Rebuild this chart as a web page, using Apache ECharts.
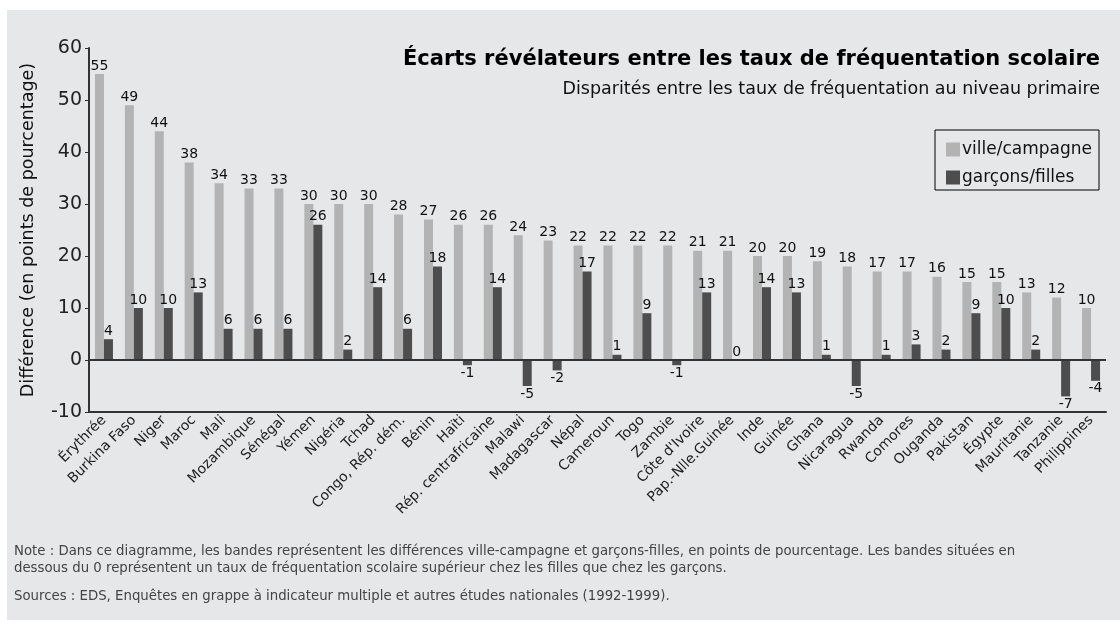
<!DOCTYPE html>
<html><head><meta charset="utf-8">
<script src="https://cdn.jsdelivr.net/npm/echarts@6/dist/echarts.min.js"></script>
<style>html,body{margin:0;padding:0;background:#fff;}#c{width:1120px;height:625px;}</style>
</head><body><div id="c"></div>
<script>
const categories = ["Érythrée","Burkina Faso","Niger","Maroc","Mali","Mozambique","Sénégal","Yémen","Nigéria","Tchad","Congo, Rép. dém.","Bénin","Haïti","Rép. centrafricaine","Malawi","Madagascar","Népal","Cameroun","Togo","Zambie","Côte d'Ivoire","Pap.-Nlle.Guinée","Inde","Guinée","Ghana","Nicaragua","Rwanda","Comores","Ouganda","Pakistan","Égypte","Mauritanie","Tanzanie","Philippines"];
const villeCampagne = [55,49,44,38,34,33,33,30,30,30,28,27,26,26,24,23,22,22,22,22,21,21,20,20,19,18,17,17,16,15,15,13,12,10];
const garconsFilles = [4,10,10,13,6,6,6,26,2,14,6,18,-1,14,-5,-2,17,1,9,-1,13,0,14,13,1,-5,1,3,2,9,10,2,-7,-4];
const yTicks = [-10,0,10,20,30,40,50,60];

const FONT = '"DejaVu Sans", sans-serif';
const chart = echarts.init(document.getElementById('c'));
const lbl = (pos) => ({show:true, position:pos, distance:1, fontSize:14, color:'#111', fontFamily:FONT});
chart.setOption({
  backgroundColor:'#fff',
  animation:false,
  textStyle:{fontFamily:FONT},
  graphic:[
    {type:'rect', z:-100, silent:true, shape:{x:7,y:10,width:1113,height:610}, style:{fill:'#e6e7e9'}},
    {type:'text', right:20, top:49, style:{text:'Écarts révélateurs entre les taux de fréquentation scolaire', font:'bold 21px '+FONT, fill:'#000'}},
    {type:'text', right:20, top:80, style:{text:'Disparités entre les taux de fréquentation au niveau primaire', font:'17.5px '+FONT, fill:'#111'}},
    {type:'rect', silent:true, shape:{x:935,y:130,width:164,height:60}, style:{fill:'#e6e7e9', stroke:'#000', lineWidth:1}},
    {type:'text', left:14, top:543, style:{text:"Note : Dans ce diagramme, les bandes représentent les différences ville-campagne et garçons-filles, en points de pourcentage. Les bandes situées en\ndessous du 0 représentent un taux de fréquentation scolaire supérieur chez les filles que chez les garçons.", font:'13.3px '+FONT, fill:'#444', lineHeight:17}},
    {type:'text', left:14, top:590, style:{text:"Sources : EDS, Enquêtes en grappe à indicateur multiple et autres études nationales (1992-1999).", font:'13.3px '+FONT, fill:'#444'}}
  ],
  legend:{
    orient:'vertical', left:941, top:136, itemWidth:14, itemHeight:14, itemGap:11,
    icon:'rect', textStyle:{fontSize:17, color:'#111', padding:[0,0,0,-3]},
    data:['ville/campagne','garçons/filles']
  },
  grid:{left:89, right:14, top:48, bottom:213, containLabel:false},
  xAxis:{
    type:'category', data:categories,
    axisLine:{onZero:false, lineStyle:{color:'#333', width:2}},
    axisTick:{show:false},
    axisLabel:{rotate:45, interval:0, fontSize:14, color:'#222', margin:6}
  },
  yAxis:{
    type:'value', min:-10, max:60, interval:10,
    name:'Différence (en points de pourcentage)', nameLocation:'middle', nameGap:52, nameRotate:90,
    nameTextStyle:{fontSize:17.5, color:'#111'},
    axisLine:{show:true, lineStyle:{color:'#333', width:2}},
    axisTick:{show:true, length:4, lineStyle:{color:'#333'}},
    splitLine:{show:false},
    axisLabel:{fontSize:19, color:'#222', margin:7, formatter:(v)=> yTicks.includes(v) ? String(v) : ''}
  },
  series:[
    {name:'ville/campagne', type:'bar', barWidth:9, barGap:'0%', itemStyle:{color:'#b3b3b3'},
     data:villeCampagne, label:lbl('top'),
     markLine:{silent:true, symbol:'none', label:{show:false}, lineStyle:{color:'#333', width:2, type:'solid'}, data:[{yAxis:0}]}},
    {name:'garçons/filles', type:'bar', barWidth:9, itemStyle:{color:'#4d4d4d'},
     data:garconsFilles.map(v => ({value:v, label:lbl(v < 0 ? 'bottom' : 'top')}))}
  ]
});
</script></body></html>
